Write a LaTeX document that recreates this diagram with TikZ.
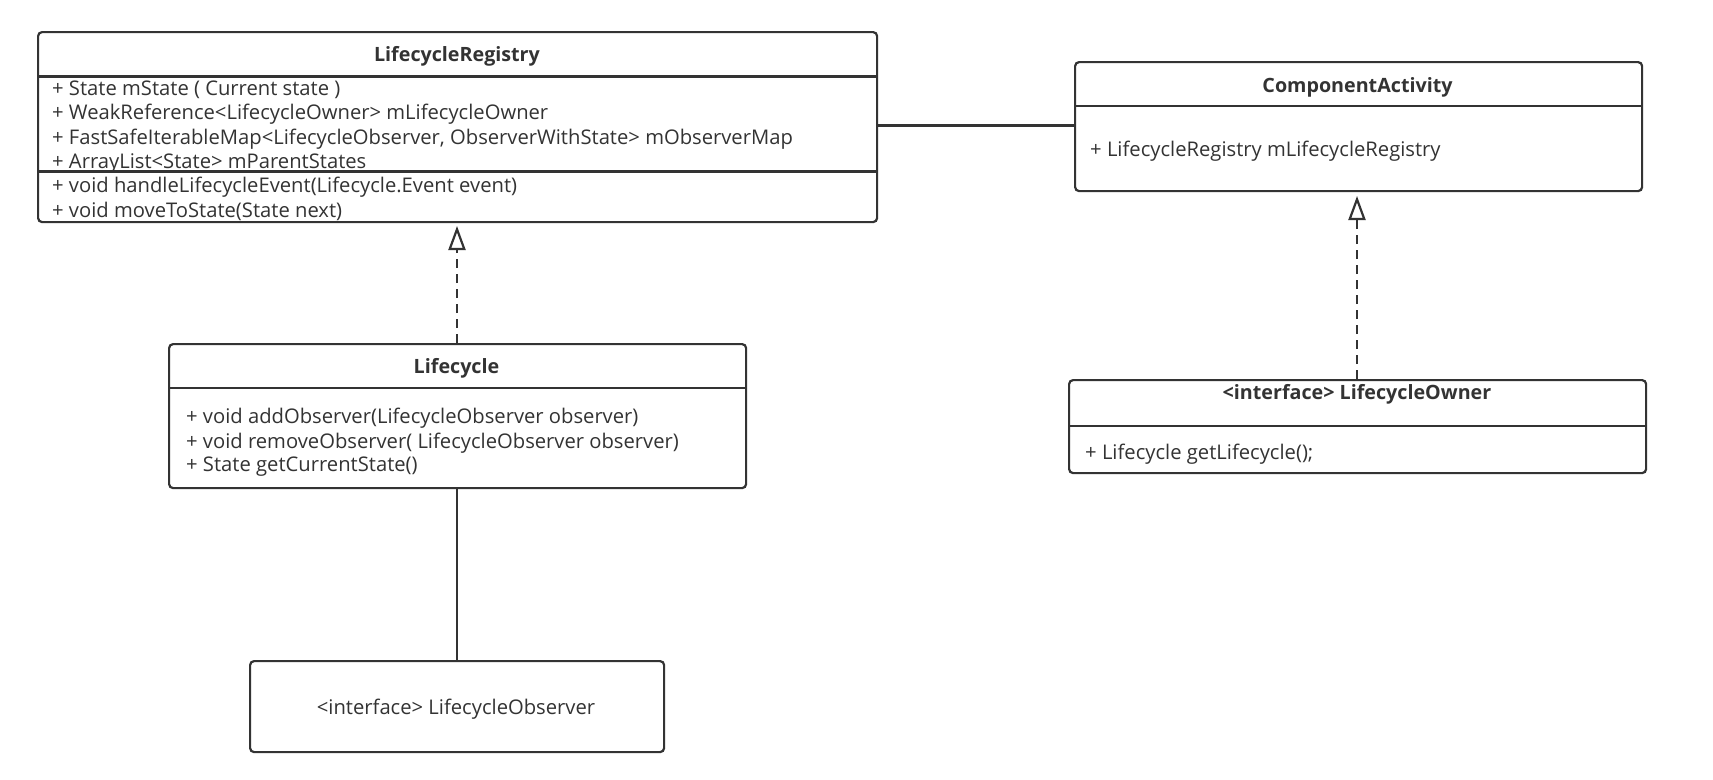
\documentclass[tikz,border=0pt]{standalone}
\usepackage{fontspec}
\setmainfont{Open Sans}
\usetikzlibrary{arrows.meta}
\definecolor{ink}{HTML}{333333}
\tikzset{
  umlbox/.style={draw=ink, line width=2.2pt, rounded corners=4pt, anchor=north west, inner sep=0pt, fill=white},
  sep/.style={draw=ink, line width=2.2pt},
  attr/.style={anchor=west, inner sep=0pt, yshift=-2.4pt, text=ink, font=\fontsize{20.2}{22}\selectfont},
  ttl/.style={anchor=center, inner sep=0pt, yshift=-2.6pt, text=ink, font=\fontsize{19.7}{22}\selectfont\bfseries},
  conn/.style={draw=ink, line width=2.2pt},
  realize/.style={draw=ink, line width=2.2pt, dash pattern=on 9pt off 6pt, -{Triangle[open, length=24pt, width=17pt, line width=2.2pt]}},
}
\begin{document}
\begin{tikzpicture}[x=1pt, y=-1pt]
\useasboundingbox (0,0) rectangle (1713,779);
% LifecycleRegistry
\node[umlbox, minimum width=839pt, minimum height=190pt] (lr) at (37,31) {};
\draw[sep] (37,76.5) -- (876,76.5);
\draw[sep] (37,171.5) -- (876,171.5);
\node[ttl] (lrt) at (457,53.5) {LifecycleRegistry};
\node[attr] (lr1) at (52,87.5) {+ State mState ( Current state )};
\node[attr] (lr2) at (52,112) {+ WeakReference<LifecycleOwner> mLifecycleOwner};
\node[attr] (lr3) at (52,136.5) {+ FastSafeIterableMap<LifecycleObserver, ObserverWithState> mObserverMap};
\node[attr] (lr4) at (52,161) {+ ArrayList<State> mParentStates};
\node[attr] (lr5) at (52,185) {+ void handleLifecycleEvent(Lifecycle.Event event)};
\node[attr] (lr6) at (52,209) {+ void moveToState(State next)};
% ComponentActivity
\node[umlbox, minimum width=567pt, minimum height=129pt] (ca) at (1074,61) {};
\draw[sep] (1074,106) -- (1641,106);
\node[ttl] (cat) at (1357.5,85) {ComponentActivity};
\node[attr] (ca1) at (1090,149) {+ LifecycleRegistry mLifecycleRegistry};
% Lifecycle
\node[umlbox, minimum width=577pt, minimum height=144pt] (lc) at (168,343) {};
\draw[sep] (168,388) -- (745,388);
\node[ttl] (lct) at (456.5,366) {Lifecycle};
\node[attr] (lc1) at (186,416) {+ void addObserver(LifecycleObserver observer)};
\node[attr] (lc2) at (186,440.5) {+ void removeObserver( LifecycleObserver observer)};
\node[attr] (lc3) at (186,464.5) {+ State getCurrentState()};
% LifecycleOwner
\node[umlbox, minimum width=577pt, minimum height=93pt] (lo) at (1068,379) {};
\draw[sep] (1068,426) -- (1645,426);
\node[ttl] (lot) at (1357,392) {<interface> LifecycleOwner};
\node[attr] (lo1) at (1085,451.5) {+ Lifecycle getLifecycle();};
% LifecycleObserver
\node[umlbox, minimum width=414pt, minimum height=91pt] (ob) at (249,660) {};
\node[attr, anchor=center] (obt) at (456,706.5) {<interface> LifecycleObserver};
% connectors
\coordinate (lcTop) at (457,343);
\coordinate (lrTip) at (457,226);
\coordinate (lcBot) at (457,487);
\coordinate (obTop) at (457,660);
\coordinate (lrR) at (876,125.5);
\coordinate (caL) at (1074,125.5);
\coordinate (loTop) at (1357,379);
\coordinate (caTip) at (1357,196);
\draw[conn] (lrR) -- (caL);
\draw[conn] (lcBot) -- (obTop);
\draw[realize] (lcTop) -- (lrTip);
\draw[realize] (loTop) -- (caTip);
\end{tikzpicture}
\end{document}
